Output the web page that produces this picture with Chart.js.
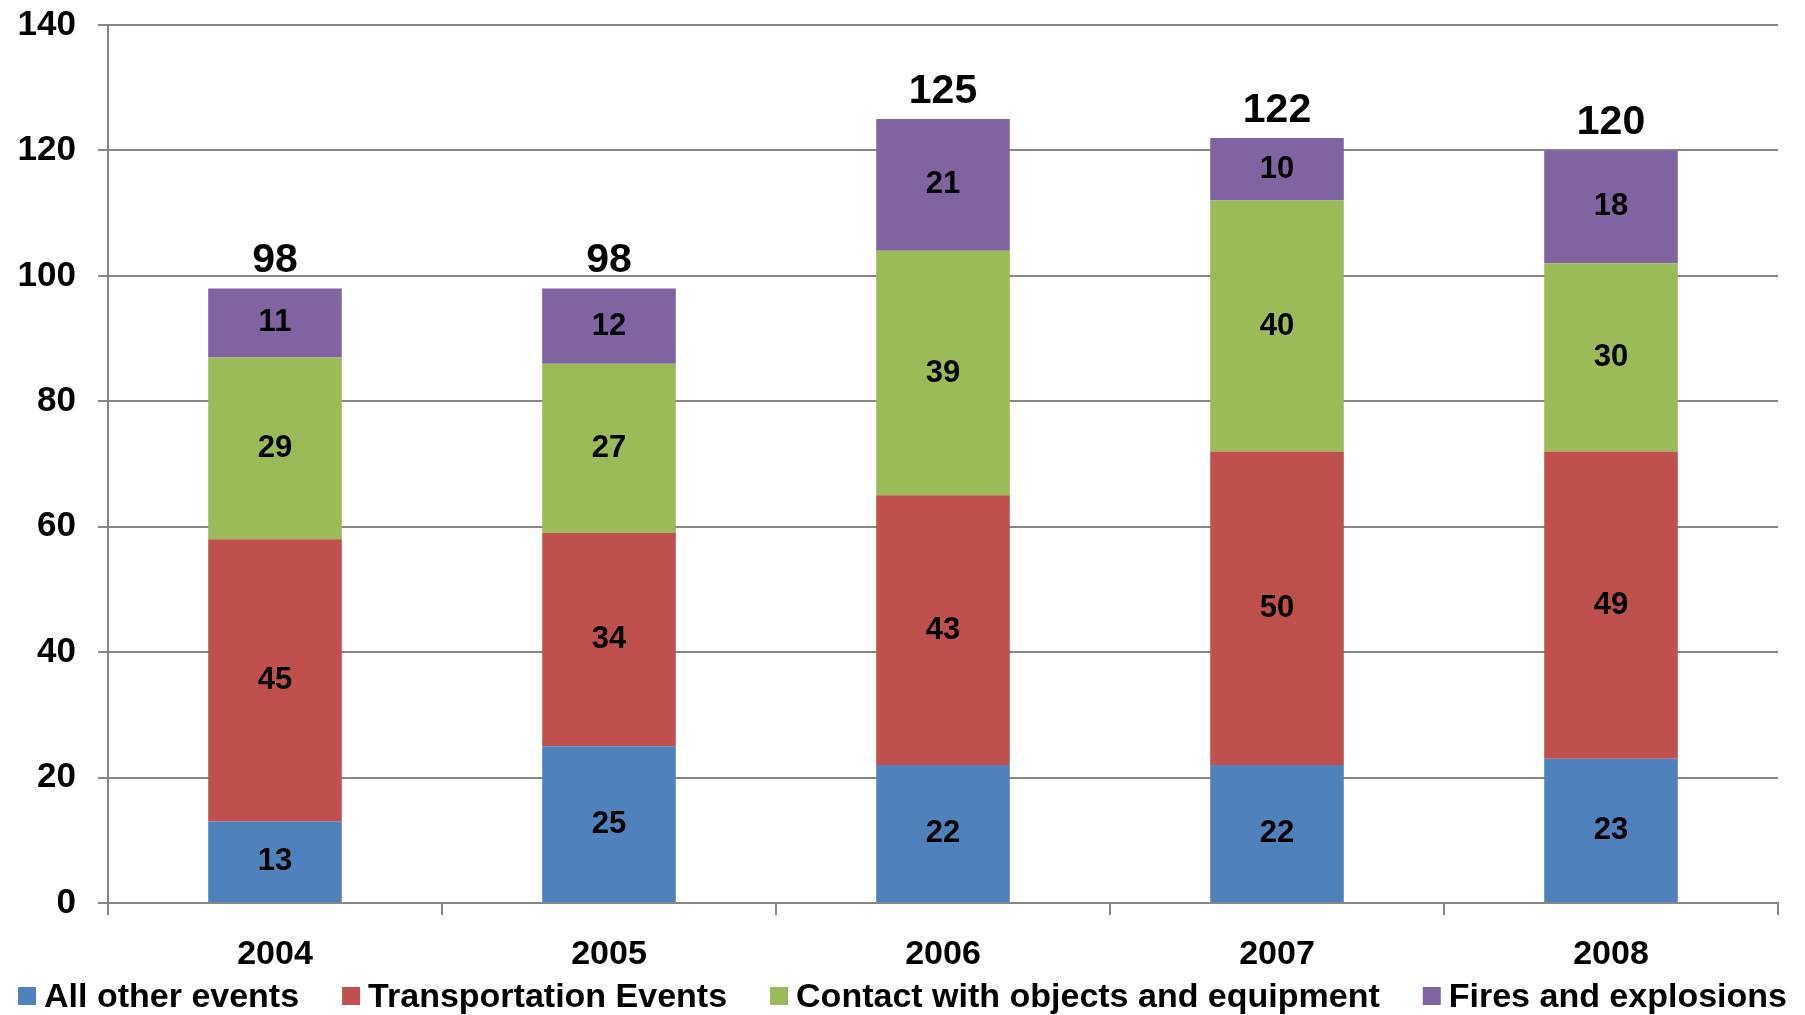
<!DOCTYPE html>
<html>
<head>
<meta charset="utf-8">
<script src="https://cdn.jsdelivr.net/npm/chart.js@4.4.0/dist/chart.umd.min.js"></script>
<style>
  html, body { margin: 0; padding: 0; background: #fff; }
  #wrap { width: 1805px; height: 1015px; }
</style>
</head>
<body>
<div id="wrap"><canvas id="myChart"></canvas></div>
<script>
const years = ['2004', '2005', '2006', '2007', '2008'];
const allOther = [13, 25, 22, 22, 23];
const transport = [45, 34, 43, 50, 49];
const contact = [29, 27, 39, 40, 30];
const fires = [11, 12, 21, 10, 18];
const totals = [98, 98, 125, 122, 120];
const seriesNames = ['All other events', 'Transportation Events', 'Contact with objects and equipment', 'Fires and explosions'];
const seriesColors = ['#4F81BD', '#C0504D', '#9BBB59', '#8064A2'];

const FONT = '"Liberation Sans", Arial, sans-serif';
const gridColor = '#868686';

// value labels inside each segment + totals on top
const barLabels = {
  id: 'barLabels',
  afterDatasetsDraw(chart) {
    const ctx = chart.ctx;
    ctx.save();
    ctx.fillStyle = '#000';
    ctx.textAlign = 'center';
    ctx.textBaseline = 'middle';
    ctx.font = 'bold 31px ' + FONT;
    chart.data.datasets.forEach((ds, i) => {
      chart.getDatasetMeta(i).data.forEach((bar, j) => {
        ctx.fillText(ds.data[j], bar.x, (bar.y + bar.base) / 2);
      });
    });
    ctx.font = 'bold 41px ' + FONT;
    ctx.textBaseline = 'alphabetic';
    const last = chart.getDatasetMeta(chart.data.datasets.length - 1);
    last.data.forEach((bar, j) => {
      ctx.fillText(totals[j], bar.x, chart.scales.y.getPixelForValue(totals[j]) - 16);
    });
    ctx.restore();
  }
};

// legend drawn in one row along the bottom
const bottomLegend = {
  id: 'bottomLegend',
  afterDraw(chart) {
    const ctx = chart.ctx;
    ctx.save();
    ctx.font = 'bold 34px ' + FONT;
    ctx.textBaseline = 'alphabetic';
    ctx.textAlign = 'left';
    const box = 18, gap = 8, spacing = 43;
    const widths = seriesNames.map(n => ctx.measureText(n).width);
    const total = widths.reduce((a, b) => a + b, 0) + seriesNames.length * (box + gap) + (seriesNames.length - 1) * spacing;
    let x = (chart.width - total) / 2;
    const baseY = 1007;
    seriesNames.forEach((name, i) => {
      ctx.fillStyle = seriesColors[i];
      ctx.fillRect(x, baseY - 20, box, box);
      ctx.fillStyle = '#000';
      ctx.fillText(name, x + box + gap, baseY);
      x += box + gap + widths[i] + spacing;
    });
    ctx.restore();
  }
};

const seriesData = [allOther, transport, contact, fires];

const ctx = document.getElementById('myChart').getContext('2d');

const myBarChart = new Chart(ctx, {
  type: 'bar',
  data: {
    labels: years,
    datasets: seriesData.map((d, i) => ({
      label: seriesNames[i],
      data: d,
      backgroundColor: seriesColors[i],
      borderWidth: 0,
      barPercentage: 0.4,
      categoryPercentage: 1.0
    }))
  },
  options: {
    responsive: true,
    maintainAspectRatio: false,
    animation: false,
    layout: { autoPadding: false, padding: { top: 25, right: 27, bottom: 0, left: 0 } },
    plugins: {
      legend: { display: false },
      tooltip: { enabled: false }
    },
    scales: {
      x: {
        stacked: true,
        afterFit: (scale) => { scale.height = 112; },
        grid: { display: true, drawOnChartArea: false, drawTicks: true, tickLength: 12, color: gridColor, lineWidth: 2, offset: true },
        border: { display: true, color: gridColor, width: 2 },
        ticks: { color: '#000', padding: 19, font: { family: FONT, size: 34, weight: 'bold' } }
      },
      y: {
        stacked: true,
        min: 0,
        max: 140,
        afterFit: (scale) => {
          scale.width = 108;
          // tick padding would otherwise push the plot area down
          scale.paddingTop = 0;
          scale.paddingBottom = 0;
        },
        grid: { color: gridColor, lineWidth: 2, tickLength: 10, drawTicks: true },
        border: { display: true, color: gridColor, width: 2 },
        ticks: { stepSize: 20, color: '#000', padding: 22, font: { family: FONT, size: 35, weight: 'bold' } }
      }
    }
  },
  plugins: [barLabels, bottomLegend]
});
</script>
</body>
</html>
